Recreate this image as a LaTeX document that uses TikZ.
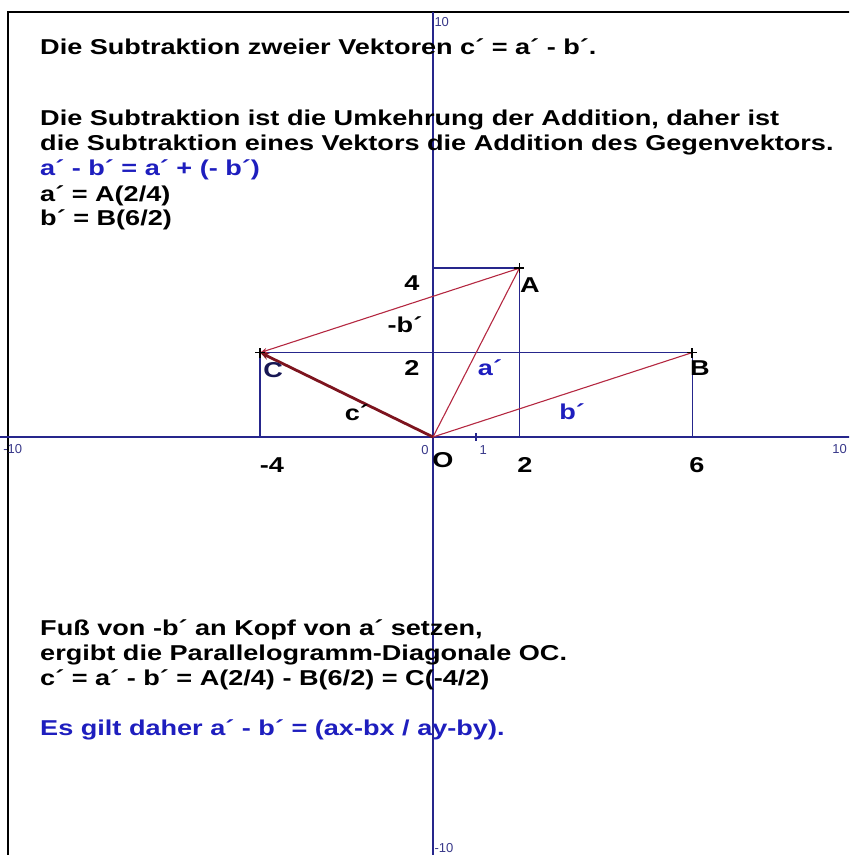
\documentclass[tikz,border=0pt]{standalone}
\usepackage{fontspec}
\setmainfont{Liberation Sans}
\newfontfamily\breitfont[FakeStretch=1.26]{Liberation Sans}
\usetikzlibrary{arrows.meta,calc}

\definecolor{achse}{RGB}{38,38,140}
\definecolor{vekrot}{RGB}{180,40,65}
\definecolor{cvek}{RGB}{125,20,30}
\definecolor{textblau}{RGB}{30,30,190}

\tikzset{
  axisline/.style={achse, line width=1.6pt},
  helpline/.style={achse, line width=1.4pt},
  vecline/.style={vekrot, line width=1.1pt},
  cline/.style={cvek, line width=2.8pt},
  txt/.style={anchor=west, inner sep=0pt, font=\breitfont\bfseries\fontsize{21.5}{25}\selectfont},
  bluetxt/.style={txt, textblau},
  ptlabel/.style={inner sep=0pt, font=\breitfont\bfseries\fontsize{21.5}{25}\selectfont},
  smalllabel/.style={anchor=west, inner sep=0pt, text=achse!80!gray, font=\fontsize{13}{15}\selectfont},
  kreuz/.style={black, line width=1.6pt}
}

\begin{document}
\begin{tikzpicture}[x=43.2pt, y=42.2pt]
\useasboundingbox (-10.023,10.355) rectangle (9.630,-9.905);
\clip (-10.023,10.355) rectangle (9.630,-9.905);

% Rahmen
\draw[black, line width=2pt] (-9.838,-10) -- (-9.838,10.071) -- (10,10.071);

% Achsen
\coordinate (O) at (0,0);
\draw[axisline] (-10.5,0) -- (10.5,0);
\draw[axisline] (0,10.071) -- (0,-10.5);
\draw[axisline] (1,0.1) -- (1,-0.1);
\node[smalllabel] (ytop) at (0.03,9.83) {10};
\node[smalllabel] (ybot) at (0.03,-9.74) {-10};
\node[smalllabel] (xleft) at (-9.95,-0.28) {-10};
\node[smalllabel] (xright) at (9.24,-0.28) {10};
\node[smalllabel, anchor=center] (null) at (-0.185,-0.31) {0};
\node[smalllabel, anchor=center] (eins) at (1.16,-0.31) {1};

% Punkte
\coordinate (A) at (2,4);
\coordinate (B) at (6,2);
\coordinate (C) at (-4,2);
\coordinate (Ax) at (2,0);
\coordinate (Ay) at (0,4);
\coordinate (Bx) at (6,0);
\coordinate (Cx) at (-4,0);

% Hilfslinien
\draw[helpline] (Ay) -- (A) -- (Ax);
\draw[helpline] (C) -- (B) -- (Bx);
\draw[helpline] (C) -- (Cx);

% Vektoren
\draw[vecline] (O) -- (A);
\draw[vecline] (O) -- (B);
\draw[vecline, -{Stealth[length=7pt,width=5pt]}] (A) -- (C);
\draw[cline, -{Stealth[length=9pt,width=7pt]}] (O) -- (C);

% Kreuze
\foreach \p in {A,B,C}
  \draw[kreuz] ($(\p)+(-5pt,0)$) -- ($(\p)+(5pt,0)$) ($(\p)+(0,-5pt)$) -- ($(\p)+(0,5pt)$);

% Beschriftung
\node[ptlabel] (labA) at (2.245,3.60) {A};
\node[ptlabel] (labB) at (6.18,1.635) {B};
\node[ptlabel, achse!60!black] (labC) at (-3.70,1.59) {C};
\node[ptlabel] (labO) at (0.23,-0.545) {O};
\node[ptlabel] (vier) at (-0.486,3.649) {4};
\node[ptlabel] (zwei) at (-0.486,1.635) {2};
\node[ptlabel] (minusb) at (-0.648,2.654) {-b´};
\node[ptlabel] (labc) at (-1.76,0.57) {c´};
\node[ptlabel, textblau] (laba) at (1.32,1.635) {a´};
\node[ptlabel, textblau] (labb) at (3.22,0.59) {b´};
\node[ptlabel] (xm4) at (-3.73,-0.66) {-4};
\node[ptlabel] (x2) at (2.13,-0.66) {2};
\node[ptlabel] (x6) at (6.11,-0.66) {6};

% Texte
\node[txt] (t1) at (-9.097,9.242) {Die Subtraktion zweier Vektoren c´ = a´ - b´.};
\node[txt] (t2) at (-9.097,7.512) {Die Subtraktion ist die Umkehrung der Addition, daher ist};
\node[txt] (t3) at (-9.097,6.919) {die Subtraktion eines Vektors die Addition des Gegenvektors.};
\node[bluetxt] (t4) at (-9.097,6.327) {a´ - b´ = a´ + (- b´)};
\node[txt] (t5) at (-9.097,5.711) {a´ = A(2/4)};
\node[txt] (t6) at (-9.097,5.142) {b´ = B(6/2)};
\node[txt] (t7) at (-9.097,-4.573) {Fuß von -b´ an Kopf von a´ setzen,};
\node[txt] (t8) at (-9.097,-5.166) {ergibt die Parallelogramm-Diagonale OC.};
\node[txt] (t9) at (-9.097,-5.758) {c´ = a´ - b´ = A(2/4) - B(6/2) = C(-4/2)};
\node[bluetxt] (t10) at (-9.097,-6.943) {Es gilt daher a´ - b´ = (ax-bx / ay-by).};
\end{tikzpicture}
\end{document}
